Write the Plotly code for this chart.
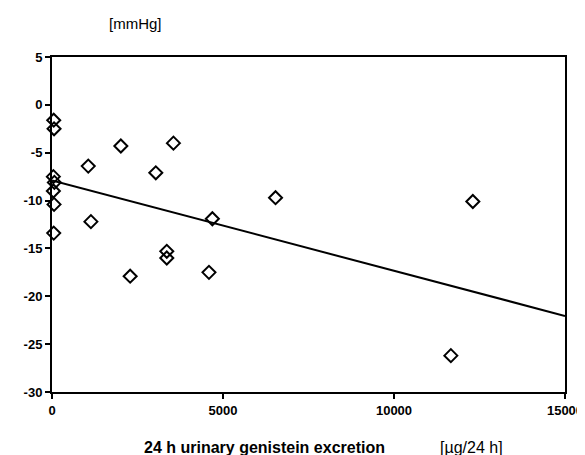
import plotly.graph_objects as go

# Data
genistein = [50, 60, 40, 70, 40, 60, 50,
             1060, 2013, 3551, 3035, 1138, 4689, 6536,
             2285, 3356, 3356, 4590, 11663, 12305]
bp_change = [-1.6, -2.5, -7.5, -8.1, -9.0, -10.4, -13.4,
             -6.4, -4.3, -4.0, -7.1, -12.2, -11.9, -9.7,
             -17.9, -15.3, -16.0, -17.5, -26.2, -10.1]
fit_x = [0, 15000]
fit_y = [-7.9, -22.05]

x_ticks = [0, 5000, 10000, 15000]
y_ticks = [5, 0, -5, -10, -15, -20, -25, -30]

font_family = "Liberation Sans, Arial, sans-serif"

fig = go.Figure()
fig.add_trace(go.Scatter(x=fit_x, y=fit_y, mode="lines",
                         line=dict(color="black", width=2), showlegend=False))
fig.add_trace(go.Scatter(x=genistein, y=bp_change, mode="markers",
                         marker=dict(symbol="diamond-open", size=10,
                                     color="black", line=dict(width=2)),
                         showlegend=False, cliponaxis=False))

# page body has an 8px default margin, so the figure is offset to fit the window
fig.update_layout(
    width=577, height=452,
    margin=dict(l=44, r=20, t=49, b=68),
    paper_bgcolor="white", plot_bgcolor="white",
    font=dict(family=font_family, color="black"),
    xaxis=dict(range=[0, 15000], tickvals=x_ticks,
               ticktext=[str(v) for v in x_ticks], automargin=False,
               showgrid=False, zeroline=False, showline=True, mirror=True,
               linecolor="black", linewidth=2, ticks="outside", ticklen=5,
               tickwidth=2, tickcolor="black",
               tickfont=dict(family=font_family, size=13, color="black", weight="bold")),
    yaxis=dict(range=[-30, 5], tickvals=y_ticks,
               ticktext=[str(v) for v in y_ticks], automargin=False,
               showgrid=False, zeroline=False, showline=True, mirror=True,
               linecolor="black", linewidth=2, ticks="outside", ticklen=5,
               tickwidth=2, tickcolor="black",
               tickfont=dict(family=font_family, size=13, color="black", weight="bold")),
    annotations=[
        dict(text="[mmHg]", xref="paper", yref="paper", x=0.162, y=1.10,
             showarrow=False, font=dict(size=15, family=font_family, color="black"),
             xanchor="center", yanchor="middle"),
        dict(text="<b>24 h urinary genistein excretion</b>", xref="paper", yref="paper",
             x=0.415, y=-0.167, showarrow=False,
             font=dict(size=16, family=font_family, color="black"),
             xanchor="center", yanchor="middle"),
        dict(text="[µg/24 h]", xref="paper", yref="paper", x=0.817, y=-0.167,
             showarrow=False, font=dict(size=16, family=font_family, color="black"),
             xanchor="center", yanchor="middle"),
    ],
)

fig.write_html("out.html")
